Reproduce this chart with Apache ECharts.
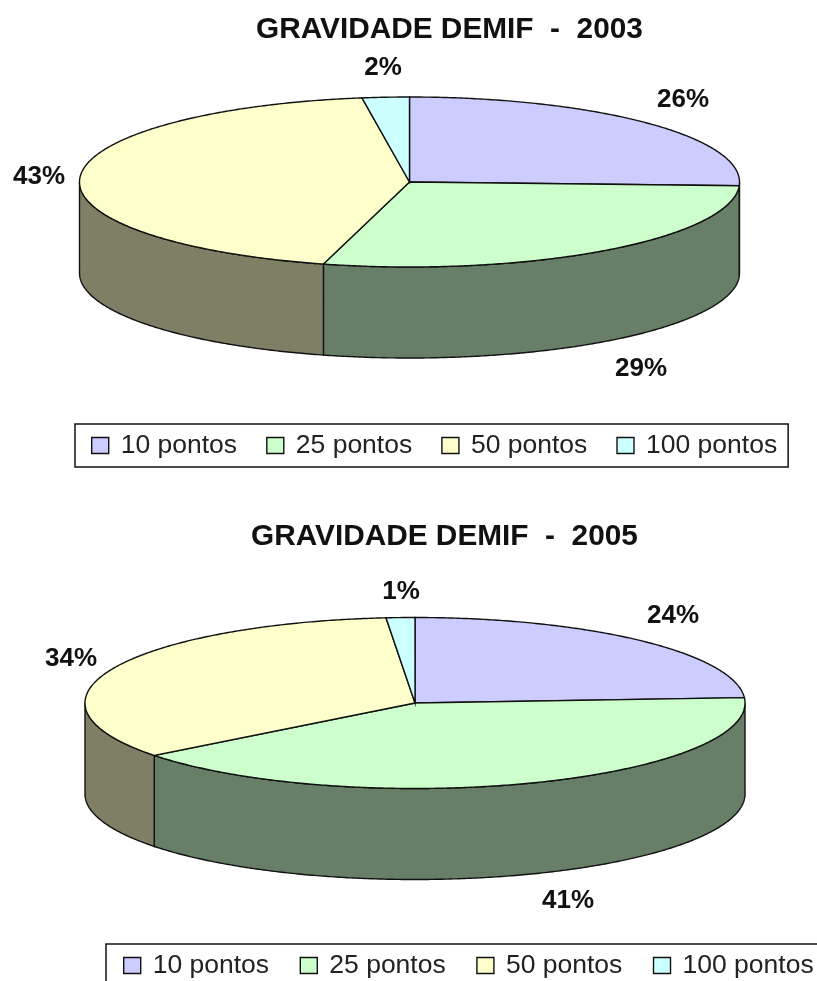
<!DOCTYPE html>
<html>
<head>
<meta charset="utf-8">
<style>html,body{margin:0;padding:0;background:#fff}#chart{width:817px;height:981px}</style>
<script src="https://cdn.jsdelivr.net/npm/echarts@6/dist/echarts.min.js"></script>
</head>
<body>
<div id="chart"></div>
<script>
// ---- data ----
const categories = ['10 pontos', '25 pontos', '50 pontos', '100 pontos'];
const values2003 = [25.7, 28.5, 43.5, 2.3];
const values2005 = [24.0, 40.5, 34.1, 1.4];
const labels2003 = ['26%', '29%', '43%', '2%'];
const labels2005 = ['24%', '41%', '34%', '1%'];
const title2003 = 'GRAVIDADE DEMIF  -  2003';
const title2005 = 'GRAVIDADE DEMIF  -  2005';

// ---- styles and layout ----
const topColors = ['#CCCCFF', '#CCFFCC', '#FFFFCC', '#CCFFFF'];
const sideColors = ['#66667F', '#667F66', '#7F7F66', '#667F7F'];
const edge = '#111';
const FONT = '"Liberation Sans", Arial, sans-serif';
const pie2003 = { cx: 409.5, cy: 182, rx: 330, ry: 85, depth: 91,
  labelPos: [[683, 100], [641, 369], [39, 177], [383, 68]] };
const pie2005 = { cx: 415, cy: 703, rx: 330, ry: 85.5, depth: 91,
  labelPos: [[673, 616], [568, 901], [71, 659], [401, 592]] };

function ellipsePoint(g, deg, drop) {
  const t = deg * Math.PI / 180;
  return [g.cx + g.rx * Math.sin(t), g.cy - g.ry * Math.cos(t) + (drop || 0)];
}
function arc(g, a, b, drop) {
  const pts = [];
  const n = Math.max(2, Math.ceil(Math.abs(b - a) * 2));
  for (let i = 0; i <= n; i++) pts.push(ellipsePoint(g, a + (b - a) * i / n, drop));
  return pts;
}
function sliceSeries(values, labels, g, idx) {
  const before = values.slice(0, idx).reduce((s, v) => s + v, 0);
  const a = before * 3.6, b = (before + values[idx]) * 3.6;
  return {
    type: 'custom',
    name: categories[idx],
    coordinateSystem: 'none',
    silent: true,
    itemStyle: { color: topColors[idx] },
    data: [[values[idx]]],
    z: 2,
    renderItem: function () {
      const children = [];
      const fa = Math.max(a, 90), fb = Math.min(b, 270);
      if (fb > fa) {
        const pts = arc(g, fa, fb, 0).concat(arc(g, fb, fa, g.depth));
        children.push({ type: 'polygon', shape: { points: pts },
          style: { fill: sideColors[idx], stroke: edge, lineWidth: 1.4 } });
      }
      const topPts = [[g.cx, g.cy]].concat(arc(g, a, b, 0));
      children.push({ type: 'polygon', shape: { points: topPts },
        style: { fill: topColors[idx], stroke: edge, lineWidth: 1.4 } });
      children.push({ type: 'text', z2: 10, style: {
        text: labels[idx], x: g.labelPos[idx][0], y: g.labelPos[idx][1],
        align: 'center', verticalAlign: 'middle', fill: '#111',
        font: 'bold 26px ' + FONT } });
      return { type: 'group', children: children };
    }
  };
}
const series = [];
categories.forEach((c, i) => series.push(sliceSeries(values2003, labels2003, pie2003, i)));
categories.forEach((c, i) => series.push(sliceSeries(values2005, labels2005, pie2005, i)));

function legendAt(left, top, width, gap, padLeft) {
  return {
    left: left, top: top, width: width, orient: 'horizontal',
    data: categories, selectedMode: false, icon: 'rect',
    itemWidth: 17, itemHeight: 16, itemGap: gap,
    padding: [8, 11, 8, padLeft],
    borderColor: '#111', borderWidth: 1.5, backgroundColor: '#fff',
    itemStyle: { borderColor: '#111', borderWidth: 1.4 },
    textStyle: { fontFamily: FONT, fontSize: 26.5, color: '#222', padding: [0, 0, 0, 7] }
  };
}

const chart = echarts.init(document.getElementById('chart'), null, { renderer: 'canvas' });
chart.setOption({
  animation: false,
  backgroundColor: '#fff',
  title: [
    { text: title2003, left: 256, top: 15, padding: 0,
      textStyle: { fontFamily: FONT, fontWeight: 'bold', fontSize: 29.8, color: '#111' } },
    { text: title2005, left: 251, top: 522, padding: 0,
      textStyle: { fontFamily: FONT, fontWeight: 'bold', fontSize: 29.8, color: '#111' } }
  ],
  legend: [legendAt(75, 424, 780, 29, 16), legendAt(106, 944, 800, 30.5, 17)],
  series: series
});
</script>
</body>
</html>
